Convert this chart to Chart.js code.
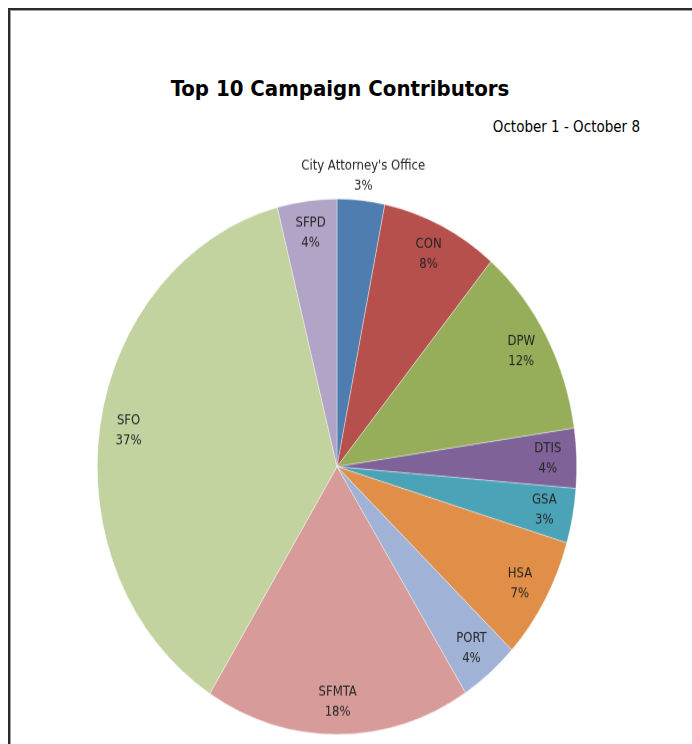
<!DOCTYPE html>
<html>
<head>
<meta charset="utf-8">
<script src="https://cdn.jsdelivr.net/npm/chart.js@4"></script>
<style>
  html, body { margin: 0; padding: 0; background: #fff; overflow: hidden; }
  body { width: 692px; height: 744px; position: relative; }
  #frame {
    position: absolute; left: 8px; top: 8px; width: 1000px; height: 1000px;
    border-top: 2px solid #2b2b2b; border-left: 2px solid #2b2b2b;
    box-shadow: inset 1px 1px 0 #a0a0a0;
  }
  #title {
    position: absolute; left: 0; width: 680px; top: 76px; text-align: center;
    font-family: "DejaVu Sans Condensed", sans-serif;
    font-weight: bold; font-size: 22px; color: #000;
  }
  #subtitle {
    position: absolute; right: 52px; top: 118px;
    font-family: "DejaVu Sans Condensed", sans-serif;
    font-size: 15px; color: #000;
  }
  #wrap {
    position: absolute; left: 0; top: 154px; width: 674px; height: 530px;
    transform-origin: 0 0; transform: scaleY(1.1167);
  }
</style>
</head>
<body>
<div id="frame"></div>
<div id="title">Top 10 Campaign Contributors</div>
<div id="subtitle">October 1 - October 8</div>
<div id="wrap"><canvas id="pie"></canvas></div>
<script>
// departments, clockwise from 12 o'clock
const departments = ["City Attorney's Office", 'CON', 'DPW', 'DTIS', 'GSA', 'HSA', 'PORT', 'SFMTA', 'SFO', 'SFPD'];
// share of contributions, percent
const shares = [3.2, 7.9, 11.6, 3.6, 3.3, 7.4, 4.0, 17.9, 37.1, 4.0];
const sliceColors = ['#4f7db0', '#b5504d', '#96ae5a', '#7e6298', '#4ba3b8', '#e08e48',
                     '#a0b3d6', '#d79b9a', '#c2d3a0', '#b2a4c6'];

const STRETCH = 1.1167; // pie in the picture is taller than wide

// Excel style labels: name and percent, near the outer edge of each slice
const sliceLabels = {
  id: 'sliceLabels',
  afterDatasetsDraw(chart) {
    const ctx = chart.ctx;
    const arcs = chart.getDatasetMeta(0).data;
    const total = shares.reduce((a, b) => a + b, 0);
    ctx.save();
    ctx.fillStyle = '#262626';
    ctx.font = '13px "DejaVu Sans Condensed", sans-serif';
    ctx.textAlign = 'center';
    ctx.textBaseline = 'middle';
    arcs.forEach((arc, i) => {
      const mid = (arc.startAngle + arc.endAngle) / 2;
      const f = i === 0 ? 1.09 : 0.88; // first slice is too thin, label sits outside
      const x = arc.x + Math.cos(mid) * arc.outerRadius * f;
      const y = arc.y + Math.sin(mid) * arc.outerRadius * f;
      ctx.save();
      ctx.translate(x, y);
      ctx.scale(1, 1 / STRETCH);
      ctx.fillText(departments[i], 0, -10);
      ctx.fillText(Math.round(shares[i] / total * 100) + '%', 0, 10);
      ctx.restore();
    });
    ctx.restore();
  }
};

new Chart(document.getElementById('pie').getContext('2d'), {
  type: 'pie',
  data: {
    labels: departments,
    datasets: [{
      data: shares,
      backgroundColor: sliceColors,
      borderColor: 'rgba(255,255,255,0.6)',
      borderWidth: 0.6
    }]
  },
  options: {
    responsive: true,
    maintainAspectRatio: false,
    animation: false,
    layout: { padding: { top: 40, bottom: 10 } },
    plugins: {
      legend: { display: false },
      tooltip: { enabled: false }
    }
  },
  plugins: [sliceLabels]
});
</script>
</body>
</html>
